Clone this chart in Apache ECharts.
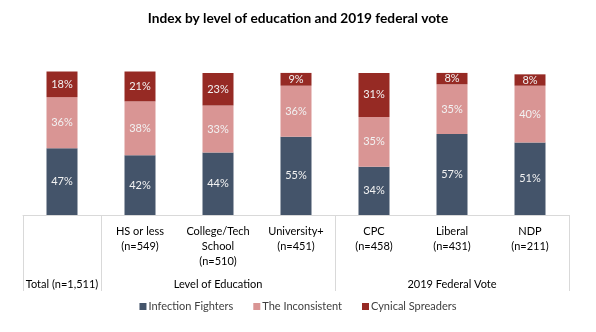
<!DOCTYPE html>
<html>
<head>
<meta charset="utf-8">
<script src="https://cdn.jsdelivr.net/npm/echarts@6/dist/echarts.min.js"></script>
<style>html,body{margin:0;padding:0;background:#fff;}#c{width:596px;height:332px;}</style>
</head>
<body>
<div id="c"></div>
<script>
var categories = ["", "HS or less\n(n=549)", "College/Tech\nSchool\n(n=510)", "University+\n(n=451)", "CPC\n(n=458)", "Liberal\n(n=431)", "NDP\n(n=211)"];
var groupLabels = ["Total (n=1,511)", "", "Level of Education", "", "", "2019 Federal Vote", ""];
var infectionFighters = [47, 42, 44, 55, 34, 57, 51];
var inconsistent = [36, 38, 33, 36, 35, 35, 40];
var cynicalSpreaders = [18, 21, 23, 9, 31, 8, 8];
var separatorAfter = [-1, 0, 3, 6]; // category boundaries (line drawn after these indices)

var FONT = 'Lato, "Open Sans", sans-serif';
var chart = echarts.init(document.getElementById('c'), null, {renderer: 'canvas'});
var lbl = {show: true, position: 'inside', color: '#F2F2F2', fontSize: 11, fontFamily: FONT, formatter: '{c}%'};
var option = {
  animation: false,
  title: {text: 'Index by level of education and 2019 federal vote', left: 'center', top: 12, padding: 0,
    textStyle: {fontSize: 13.7, fontWeight: 'bold', color: '#000', fontFamily: FONT}},
  legend: {bottom: 15, left: 'center', itemWidth: 7, itemHeight: 7, itemGap: 20, icon: 'rect',
    textStyle: {fontSize: 11, color: '#404040', fontFamily: FONT, padding: [0, 0, 0, -3]}},
  grid: {left: 23, right: 27, top: 71.5, bottom: 117, containLabel: false},
  xAxis: [{
    type: 'category', data: categories, position: 'bottom',
    axisLine: {show: true, lineStyle: {color: '#D9D9D9', width: 1}},
    axisTick: {show: false},
    axisLabel: {interval: 0, margin: 9, fontSize: 11, lineHeight: 15, color: '#000', fontFamily: FONT, align: 'center'}
  }, {
    type: 'category', data: groupLabels, position: 'bottom',
    axisLine: {show: false}, axisTick: {show: false},
    axisLabel: {interval: 0, margin: 62, fontSize: 11, lineHeight: 15, color: '#000', fontFamily: FONT}
  }],
  yAxis: {type: 'value', min: 0, max: 101, show: false, splitLine: {show: false}},
  series: [
    {name: 'Infection Fighters', type: 'bar', stack: 's', data: infectionFighters, barWidth: 31, itemStyle: {color: '#44546A'}, label: lbl},
    {name: 'The Inconsistent', type: 'bar', stack: 's', data: inconsistent, barWidth: 31, itemStyle: {color: '#D99594'}, label: lbl},
    {name: 'Cynical Spreaders', type: 'bar', stack: 's', data: cynicalSpreaders, barWidth: 31, itemStyle: {color: '#962A24'}, label: lbl}
  ]
};
chart.setOption(option);

// separator lines below the axis at category boundaries
var p0 = chart.convertToPixel({xAxisIndex: 0}, 0);
var p1 = chart.convertToPixel({xAxisIndex: 0}, 1);
var band = p1 - p0;
var axisY = chart.convertToPixel({yAxisIndex: 0}, 0);
var graphics = separatorAfter.map(function (i) {
  var x = Math.round(chart.convertToPixel({xAxisIndex: 0}, i) + band / 2) + 0.5;
  return {type: 'line', shape: {x1: x, y1: axisY, x2: x, y2: axisY + 76}, style: {stroke: '#D9D9D9', lineWidth: 1}, silent: true};
});
chart.setOption({graphic: graphics});
</script>
</body>
</html>
